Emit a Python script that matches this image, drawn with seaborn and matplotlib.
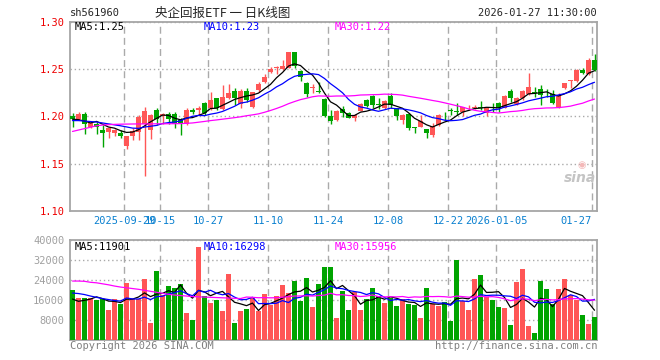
import numpy as np
import pandas as pd
import seaborn as sns
import matplotlib
matplotlib.use('Agg')
import matplotlib.pyplot as plt

# ---- data ----
code = 'sh561960'
title = '央企回报ETF 一 日K线图'
stamp = '2026-01-27 11:30:00'

# trading days 2025-09-16 .. 2026-01-27 without the exchange holidays
holidays = ['2025-10-01', '2025-10-02', '2025-10-03', '2025-10-06', '2025-10-07',
            '2025-10-08', '2026-01-01', '2026-01-02']
tick_dates = ['2025-09-29', '2025-10-15', '2025-10-27', '2025-11-10', '2025-11-24',
              '2025-12-08', '2025-12-22', '2026-01-05', '2026-01-27']
tick_labels = ['2025-09-29', '10-15', '10-27', '11-10', '11-24',
               '12-08', '12-22', '2026-01-05', '01-27']

open_ = [1.2004, 1.1973, 1.2025, 1.1888, 1.1916, 1.1856, 1.1831, 1.1828, 1.1821, 1.1690,
         1.1792, 1.1831, 1.1923, 1.1856, 1.2068, 1.2004, 1.2022, 1.2022, 1.1961, 1.1916,
         1.2064, 1.2064, 1.2145, 1.2085, 1.2191, 1.2078, 1.2191, 1.2272, 1.2131, 1.2272,
         1.2103, 1.2280, 1.2361, 1.2467, 1.2516, 1.2502, 1.2516, 1.2685, 1.2484, 1.2350,
         1.2297, 1.2272, 1.2184, 1.2004, 1.1962, 1.2075, 1.2032, 1.1979, 1.2061, 1.2173,
         1.2216, 1.2131, 1.2085, 1.2219, 1.2085, 1.1962, 1.2025, 1.1891, 1.1891, 1.1866,
         1.1803, 1.1909, 1.2008, 1.2068, 1.2057, 1.2043, 1.2096, 1.2092, 1.2099, 1.2032,
         1.2099, 1.2145, 1.2092, 1.2269, 1.2128, 1.2191, 1.2234, 1.2262, 1.2286, 1.2251,
         1.2234, 1.2103, 1.2297, 1.2378, 1.2375, 1.2491, 1.2445, 1.2597]
high = [1.2032, 1.2050, 1.2050, 1.1937, 1.1937, 1.1910, 1.1873, 1.1870, 1.1856, 1.1796,
        1.1880, 1.2015, 1.2103, 1.2022, 1.2092, 1.2040, 1.2050, 1.2050, 1.1979, 1.2092,
        1.2092, 1.2113, 1.2156, 1.2262, 1.2198, 1.2332, 1.2339, 1.2297, 1.2290, 1.2304,
        1.2262, 1.2368, 1.2445, 1.2527, 1.2537, 1.2597, 1.2685, 1.2685, 1.2491, 1.2360,
        1.2339, 1.2360, 1.2191, 1.2068, 1.2068, 1.2110, 1.2050, 1.2022, 1.2138, 1.2184,
        1.2226, 1.2198, 1.2173, 1.2251, 1.2092, 1.2022, 1.2032, 1.1891, 1.2015, 1.1866,
        1.1926, 1.2022, 1.2050, 1.2085, 1.2138, 1.2103, 1.2120, 1.2120, 1.2163, 1.2103,
        1.2138, 1.2156, 1.2226, 1.2286, 1.2209, 1.2280, 1.2456, 1.2315, 1.2332, 1.2290,
        1.2279, 1.2244, 1.2357, 1.2385, 1.2502, 1.2509, 1.2615, 1.2657]
low = [1.1890, 1.1960, 1.1810, 1.1874, 1.1810, 1.1680, 1.1775, 1.1796, 1.1775, 1.1655,
       1.1750, 1.1750, 1.1373, 1.1760, 1.1910, 1.1916, 1.1916, 1.1880, 1.1803, 1.1909,
       1.2022, 1.2015, 1.2015, 1.2068, 1.2068, 1.2068, 1.2184, 1.2120, 1.2092, 1.2156,
       1.2092, 1.2262, 1.2350, 1.2456, 1.2445, 1.2491, 1.2510, 1.2510, 1.2375, 1.2209,
       1.2244, 1.2244, 1.1997, 1.1922, 1.1951, 1.1997, 1.1979, 1.1951, 1.2057, 1.2103,
       1.2092, 1.2078, 1.2078, 1.2085, 1.1962, 1.1919, 1.1856, 1.1821, 1.1884, 1.1775,
       1.1785, 1.1902, 1.1962, 1.2015, 1.2015, 1.2004, 1.2068, 1.2075, 1.2068, 1.2004,
       1.2050, 1.2043, 1.2085, 1.2156, 1.2121, 1.2173, 1.2226, 1.2209, 1.2120, 1.2209,
       1.2128, 1.2092, 1.2290, 1.2297, 1.2368, 1.2445, 1.2438, 1.2481]
close = [1.1973, 1.2025, 1.1916, 1.1930, 1.1888, 1.1828, 1.1873, 1.1856, 1.1796, 1.1796,
         1.1845, 1.1997, 1.2057, 1.2015, 1.1973, 1.2029, 1.1973, 1.1916, 1.1926, 1.2068,
         1.2050, 1.2092, 1.2032, 1.2173, 1.2085, 1.2202, 1.2244, 1.2191, 1.2269, 1.2173,
         1.2255, 1.2343, 1.2421, 1.2502, 1.2523, 1.2534, 1.2685, 1.2537, 1.2414, 1.2234,
         1.2315, 1.2262, 1.2008, 1.1951, 1.2061, 1.2032, 1.1986, 1.2015, 1.2128, 1.2113,
         1.2121, 1.2121, 1.2166, 1.2121, 1.2008, 1.2015, 1.1881, 1.1874, 1.1955, 1.1828,
         1.1898, 1.2015, 1.2001, 1.2061, 1.2050, 1.2096, 1.2103, 1.2103, 1.2085, 1.2092,
         1.2085, 1.2085, 1.2219, 1.2191, 1.2198, 1.2269, 1.2315, 1.2244, 1.2226, 1.2244,
         1.2138, 1.2226, 1.2357, 1.2385, 1.2491, 1.2456, 1.2597, 1.2491]
volume = [20100, 16900, 16900, 16900, 16100, 16400, 12100, 16400, 14500, 22900,
          16400, 16400, 24600, 7100, 27800, 18000, 21700, 20900, 22500, 11100,
          8100, 37400, 17700, 14900, 16100, 11700, 26500, 6900, 11700, 12500,
          16800, 11700, 18500, 14300, 17700, 22100, 18900, 23800, 15700, 24900,
          13300, 22500, 29300, 29300, 8900, 19700, 12100, 19300, 12100, 16500,
          20900, 17700, 14900, 16900, 13700, 16500, 14500, 14100, 8900, 20900,
          14500, 13700, 15300, 7700, 32100, 15700, 12100, 24500, 26100, 17300,
          16100, 13300, 12900, 6100, 23300, 28500, 5700, 2900, 23700, 20500,
          14500, 20500, 24500, 18100, 16100, 10100, 6500, 9300]

# moving-average values at the left edge (they depend on days before the window)
ma5_head = [1.1970, 1.1965, 1.1950, 1.1930]
ma10_head = [1.1955, 1.1955, 1.1950, 1.1945, 1.1940, 1.1930, 1.1920, 1.1910, 1.1900]
ma30_head = [1.1840, 1.1855, 1.1870, 1.1885, 1.1900, 1.1908, 1.1912, 1.1915, 1.1917,
             1.1918, 1.1919, 1.1920, 1.1920, 1.1920, 1.1921, 1.1921, 1.1922, 1.1922,
             1.1923, 1.1926, 1.1930, 1.1938, 1.1946, 1.1955, 1.1962, 1.1970, 1.1978,
             1.1986, 1.1995]
vma5_head = [16500, 15600, 16000, 16500]
vma10_head = [18900, 18700, 18300, 17700, 17200, 16700, 16300, 15900, 15700]
vma30_head = [23700, 23700, 23600, 23200, 23000, 22600, 22200, 21700, 21300, 21000,
              20700, 20400, 20000, 19600, 19200, 18800, 18400, 18100, 17900, 17700,
              17500, 17400, 17300, 17200, 17100, 17000, 16900, 16800, 16700]

price_ma_labels = ['MA5:1.25', 'MA10:1.23', 'MA30:1.22']
vol_ma_labels = ['MA5:11901', 'MA10:16298', 'MA30:15956']
price_ticks = [1.10, 1.15, 1.20, 1.25, 1.30]
vol_ticks = [8000, 16000, 24000, 32000, 40000]

# ---- styling ----
UP = '#ff5656'
DOWN = '#00a400'
MA_COLORS = ['black', '#0000ff', '#ff00ff']
FRAME = '#a6a6a6'
GRID = '#aaaaaa'
MONO = ['DejaVu Sans Mono', 'Noto Sans CJK SC']

sns.set_theme(style='white')
plt.rcParams['font.family'] = MONO
plt.rcParams['font.size'] = 7


def moving_average(values, n, head):
    ma = pd.Series(values, dtype=float).rolling(n).mean()
    ma.iloc[:n - 1] = head
    return ma


days = pd.bdate_range('2025-09-16', '2026-01-27')
days = days[~days.isin(pd.to_datetime(holidays))]
x = np.arange(len(days))
tick_pos = days.get_indexer(pd.to_datetime(tick_dates))

open_ = np.array(open_)
close = np.array(close)
up = close >= open_
colors = np.where(up, UP, DOWN)
width = 5 / 6
xc = x + width / 2

W, H = 660, 360
fig = plt.figure(figsize=(W / 100, H / 100), dpi=100)
ax = fig.add_axes([70 / W, 1 - 210.7 / H, 527 / W, 188.7 / H])
axv = fig.add_axes([70 / W, 1 - 340.3 / H, 527 / W, 100 / H])

# candles
body = np.maximum(np.abs(close - open_), 0.0004)
ax.vlines(xc, low, high, colors=colors, lw=1.0, zorder=3)
ax.bar(x, body, bottom=np.minimum(open_, close), width=width, align='edge',
       color=colors, linewidth=0, zorder=4)

for n, head, col in zip([5, 10, 30], [ma5_head, ma10_head, ma30_head], MA_COLORS):
    sns.lineplot(x=xc, y=moving_average(close, n, head), ax=ax, color=col,
                 lw=0.9, errorbar=None, zorder=5)

# volume
axv.bar(x, volume, width=width, align='edge', color=colors, linewidth=0, zorder=3)
for n, head, col in zip([5, 10, 30], [vma5_head, vma10_head, vma30_head], MA_COLORS):
    sns.lineplot(x=xc, y=moving_average(volume, n, head), ax=axv, color=col,
                 lw=0.9, errorbar=None, zorder=5)

for a in (ax, axv):
    a.set_xlim(0, 527 / 6)
    a.set_xticks(tick_pos)
    a.grid(False)
    a.xaxis.grid(True, linestyle=(0, (5, 3)), color=GRID, lw=1.0, zorder=1)
    a.yaxis.grid(True, linestyle=(0, (1, 2)), color=GRID, lw=1.0, zorder=1)
    a.set_axisbelow(True)
    a.tick_params(length=0, pad=4)
    a.set_xlabel('')
    a.set_ylabel('')
    for s in a.spines.values():
        s.set_color(FRAME)
        s.set_linewidth(1.3)

ax.set_ylim(1.10, 1.30)
ax.set_yticks(price_ticks)
ax.set_yticklabels([f'{v:.2f}' for v in price_ticks], color='#ee0000', fontsize=7.5)
ax.set_xticklabels(tick_labels, color='#0a80d0', fontsize=7.5)
# the last date would run past the frame, so it ends at its gridline
ax.get_xticklabels()[-1].set_ha('right')

axv.set_ylim(0, 40000)
axv.set_yticks(vol_ticks)
axv.set_yticklabels([str(v) for v in vol_ticks], color='#a0a0a0', fontsize=7.5)
axv.set_xticklabels([])

# header and panel labels
fig.text(70 / W, 1 - 13 / H, code, ha='left', va='center', fontsize=7.5)
fig.text(223 / W, 1 - 13 / H, title, ha='center', va='center', fontsize=9,
         family=['Noto Sans CJK SC', 'DejaVu Sans'])
fig.text(597 / W, 1 - 13 / H, stamp, ha='right', va='center', fontsize=7.5)

for lab, xpos, col in zip(price_ma_labels, [75, 204, 335], MA_COLORS):
    fig.text(xpos / W, 1 - 26.5 / H, lab, ha='left', va='center', color=col, fontsize=7.5)
for lab, xpos, col in zip(vol_ma_labels, [75, 204, 335], MA_COLORS):
    fig.text(xpos / W, 1 - 246.5 / H, lab, ha='left', va='center', color=col, fontsize=7.5)

fig.text(70 / W, 1 - 346 / H, 'Copyright 2026 SINA.COM', ha='left', va='center',
         color='#808080', fontsize=7.5)
fig.text(597 / W, 1 - 346 / H, 'http://finance.sina.com.cn', ha='right', va='center',
         color='#808080', fontsize=7.5)

# faint sina watermark
fig.text(580 / W, 1 - 178 / H, 'sina', ha='center', va='center', color='#c4c4c4',
         fontsize=10, fontweight='bold', style='italic', family='DejaVu Sans')
fig.text(582 / W, 1 - 165 / H, '◉', ha='center', va='center', color='#f4b8b8',
         fontsize=7, family='DejaVu Sans')

fig.savefig('out.png', dpi=100)
